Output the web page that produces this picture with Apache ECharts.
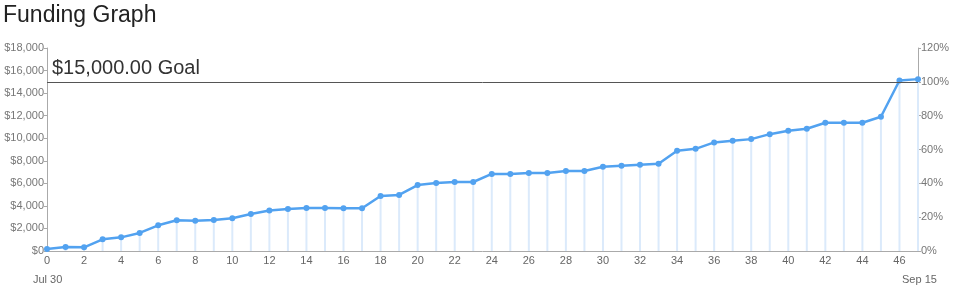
<!DOCTYPE html>
<html>
<head>
<meta charset="utf-8">
<script src="https://cdn.jsdelivr.net/npm/echarts@6/dist/echarts.min.js"></script>
<style>
html,body{margin:0;padding:0;background:#fff;}
#chart{width:956px;height:291px;}
</style>
</head>
<body>
<div id="chart"></div>
<script>
// Day index since Jul 30
const days = ["0","1","2","3","4","5","6","7","8","9","10","11","12","13","14","15","16","17","18","19","20","21","22","23","24","25","26","27","28","29","30","31","32","33","34","35","36","37","38","39","40","41","42","43","44","45","46","47"];
// Cumulative funding (USD)
const funding = [180,350,330,1035,1210,1600,2280,2720,2690,2750,2900,3280,3600,3720,3810,3810,3800,3790,4880,4970,5850,6030,6120,6120,6830,6830,6910,6910,7090,7090,7470,7560,7650,7740,8890,9060,9630,9780,9920,10360,10660,10840,11370,11370,11370,11900,15120,15240];
const goal = 15000;
const goalLabel = "$15,000.00 Goal";
const startLabel = "Jul 30";
const endLabel = "Sep 15";
const titleText = "Funding Graph";

const chart = echarts.init(document.getElementById('chart'), null, {renderer:'canvas'});
const font = 'Liberation Sans, Arial, Helvetica, sans-serif';
chart.setOption({
  animation:false,
  textStyle:{fontFamily:font},
  title:{text:titleText,left:-2,top:-1,textStyle:{fontFamily:font,fontSize:23,fontWeight:'normal',color:'#222'}},
  grid:{left:47,right:38,top:48,bottom:40,containLabel:false},
  xAxis:{
    type:'category',data:days,boundaryGap:false,
    axisLine:{lineStyle:{color:'#aaa'}},
    axisTick:{show:false},
    axisLabel:{interval:1,color:'#666',fontSize:11,margin:4,fontFamily:font},
    splitLine:{show:false}
  },
  yAxis:[
    {type:'value',min:0,max:18000,interval:2000,
     axisLine:{show:true,lineStyle:{color:'#aaa'}},
     axisTick:{show:true,length:3,lineStyle:{color:'#aaa'}},
     axisLabel:{color:'#777',fontSize:11,margin:3,fontFamily:font,
       formatter:v=>'$'+v.toLocaleString('en-US')},
     splitLine:{show:false}},
    {type:'value',min:0,max:120,interval:20,position:'right',
     axisLine:{show:true,lineStyle:{color:'#aaa'}},
     axisTick:{show:true,length:3,lineStyle:{color:'#aaa'}},
     axisLabel:{color:'#777',fontSize:11,margin:3,fontFamily:font,formatter:'{value}%'},
     splitLine:{show:false}}
  ],
  series:[
    {type:'bar',data:funding,barWidth:2,itemStyle:{color:'#dbeafb'},silent:true,z:1},
    {type:'line',data:funding,symbol:'circle',symbolSize:6,showSymbol:true,
     lineStyle:{color:'#52a2f0',width:2.5},itemStyle:{color:'#52a2f0'},z:3,
     markLine:{silent:true,symbol:'none',
       lineStyle:{color:'#555',width:1,type:'solid'},
       label:{show:true,position:'insideStartTop',formatter:goalLabel,color:'#333',fontSize:20,fontFamily:font,distance:[5,3]},
       data:[{yAxis:goal}]}}
  ],
  graphic:[
    {type:'text',left:33,top:274,style:{text:startLabel,fill:'#666',font:'11px '+font}},
    {type:'text',left:902,top:274,style:{text:endLabel,fill:'#666',font:'11px '+font}}
  ]
});
</script>
</body>
</html>
